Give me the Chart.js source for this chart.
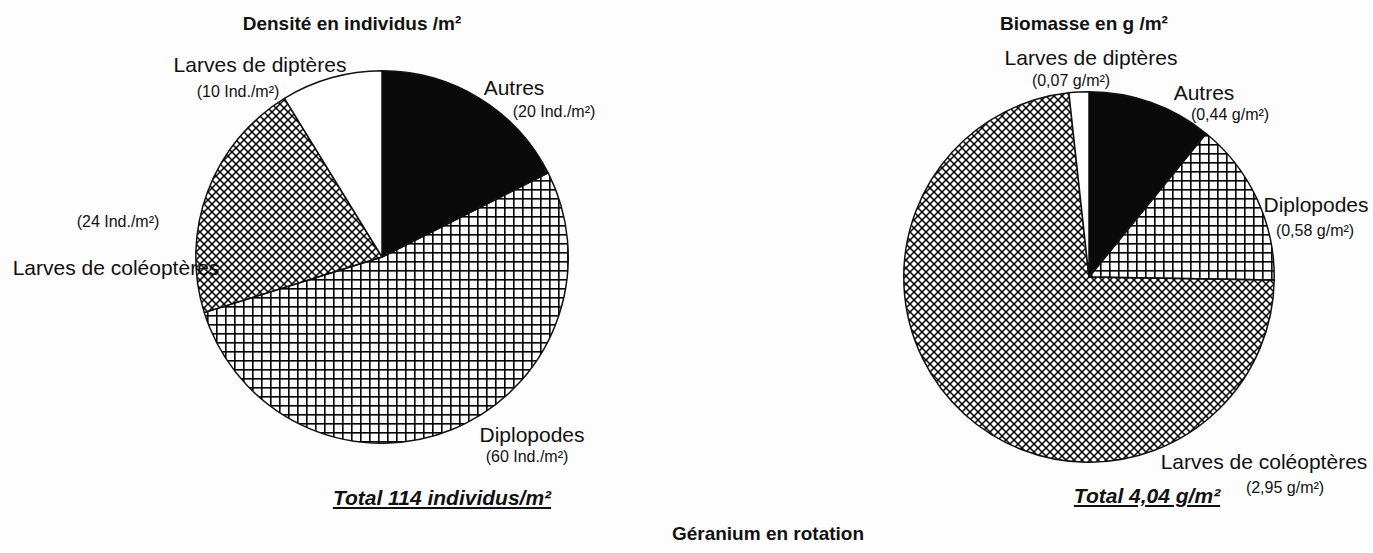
<!DOCTYPE html>
<html lang="fr">
<head>
<meta charset="utf-8">
<title>Géranium en rotation</title>
<script src="https://cdn.jsdelivr.net/npm/chart.js@4.4.1/dist/chart.umd.min.js"></script>
<style>
  html, body {
    margin: 0;
    padding: 0;
    background: #fdfdfd;
  }
  #page {
    position: relative;
    width: 1373px;
    height: 553px;
    overflow: hidden;
    background: #fdfdfd;
    font-family: "Liberation Sans", Arial, Helvetica, sans-serif;
    color: #111;
  }
  .box {
    position: absolute;
    top: 0;
    height: 553px;
    z-index: 2;
  }
  .txt {
    position: absolute;
    white-space: nowrap;
    transform: translate(-50%, -50%);
    z-index: 1;
  }
  .title { font-weight: bold; font-size: 19px; }
  .lab { font-size: 21px; }
  .sub { font-size: 16px; }
  .total { font-weight: bold; font-style: italic; font-size: 21px; text-decoration: underline; }
</style>
</head>
<body>
<div id="page">
  <div class="box" style="left:0;width:686px"><canvas id="densityChart"></canvas></div>
  <div class="box" style="left:686px;width:687px"><canvas id="biomassChart"></canvas></div>
</div>
<script>
// Categories, in clockwise order from 12 o'clock
const categories = ['Autres', 'Diplopodes', 'Larves de coléoptères', 'Larves de diptères'];

// Densité (individus / m²)
const densityValues = [20, 60, 24, 10];
// Biomasse (g / m²)
const biomassValues = [0.44, 0.58, 2.95, 0.07];

const densityTitle = 'Densité en individus /m²';
const biomassTitle = 'Biomasse en g /m²';
const caption = 'Géranium en rotation';

// Label placement (page px, text centre): [label x, label y, note x, note y]
const densityLabelPos = [
  [514, 88, 554, 112],
  [532, 435, 527, 457],
  [116, 268, 118, 222],
  [260, 65, 238, 92]
];
const biomassLabelPos = [
  [1204, 93, 1230, 115],
  [1316, 205, 1315, 231],
  [1264, 462, 1285, 488],
  [1091, 58, 1071, 81]
];

// Hatch fills (transparent between the lines, like a printed hatch)
function makeGrid(step) {
  const c = document.createElement('canvas');
  c.width = step; c.height = step;
  const g = c.getContext('2d');
  g.fillStyle = '#000';
  g.fillRect(0, 0, step, 1.6);
  g.fillRect(0, 0, 1.6, step);
  return g.createPattern(c, 'repeat');
}

function makeCross(step) {
  const c = document.createElement('canvas');
  c.width = step; c.height = step;
  const g = c.getContext('2d');
  g.strokeStyle = '#000';
  g.lineWidth = 1.5;
  g.beginPath();
  g.moveTo(-1, -1); g.lineTo(step + 1, step + 1);
  g.moveTo(-1, step + 1); g.lineTo(step + 1, -1);
  g.stroke();
  return g.createPattern(c, 'repeat');
}

function fills() {
  return ['#0a0a0a', makeGrid(9), makeCross(8), '#ffffff'];
}

function pieConfig(values, padding) {
  return {
    type: 'pie',
    data: {
      labels: categories,
      datasets: [{
        data: values,
        backgroundColor: fills(),
        borderColor: '#111',
        borderWidth: 1.5,
        hoverOffset: 0
      }]
    },
    options: {
      responsive: true,
      maintainAspectRatio: false,
      animation: false,
      events: [],
      layout: { padding: padding },
      plugins: {
        legend: { display: false },
        tooltip: { enabled: false }
      }
    }
  };
}

const densityChart = new Chart(document.getElementById('densityChart'),
  pieConfig(densityValues, { left: 195, right: 117, top: 70, bottom: 109 }));
const biomassChart = new Chart(document.getElementById('biomassChart'),
  pieConfig(biomassValues, { left: 217, right: 98, top: 91, bottom: 90 }));

// Text overlays (under the pies, so overlapping letters sit behind the hatch)
const page = document.getElementById('page');
function addText(text, cls, x, y) {
  const d = document.createElement('div');
  d.className = 'txt ' + cls;
  d.textContent = text;
  d.style.left = x + 'px';
  d.style.top = y + 'px';
  page.appendChild(d);
}

const fmtDensity = v => '(' + v + ' Ind./m²)';
const fmtBiomass = v => '(' + v.toFixed(2).replace('.', ',') + ' g/m²)';

categories.forEach((name, i) => {
  const p = densityLabelPos[i];
  addText(name, 'lab', p[0], p[1]);
  addText(fmtDensity(densityValues[i]), 'sub', p[2], p[3]);
  const q = biomassLabelPos[i];
  addText(name, 'lab', q[0], q[1]);
  addText(fmtBiomass(biomassValues[i]), 'sub', q[2], q[3]);
});

const densityTotal = densityValues.reduce((a, b) => a + b, 0);
const biomassTotal = biomassValues.reduce((a, b) => a + b, 0);

addText(densityTitle, 'title', 352, 24);
addText(biomassTitle, 'title', 1084, 24);
addText('Total ' + densityTotal + ' individus/m²', 'total', 442, 498);
addText('Total ' + biomassTotal.toFixed(2).replace('.', ',') + ' g/m²', 'total', 1147, 496);
addText(caption, 'title', 768, 534);
</script>
</body>
</html>
